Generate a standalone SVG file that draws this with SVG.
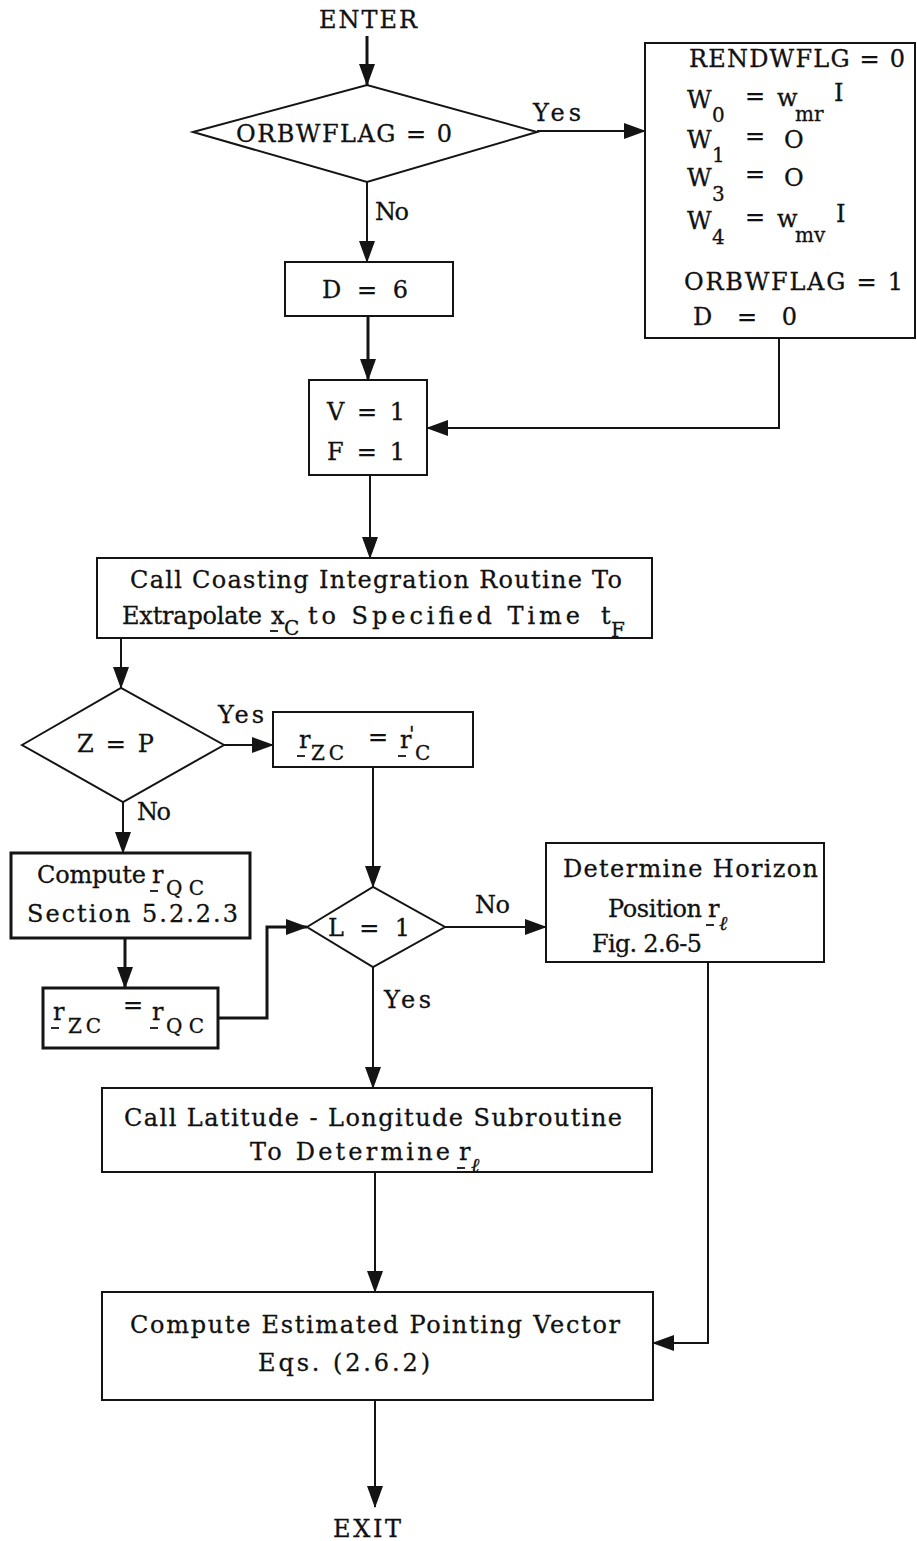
<svg xmlns="http://www.w3.org/2000/svg" width="917" height="1541" viewBox="0 0 917 1541">
  <style>
    .t { font-family: "DejaVu Serif", "Liberation Serif", serif; font-size: 24px; fill: #111111; stroke: #111111; stroke-width: 0.3; }
    .s { font-size: 20px; }
    .box { fill: none; stroke: #141414; stroke-width: 2; }
    .heavy { stroke-width: 3; }
    .ln { fill: none; stroke: #141414; stroke-width: 2; marker-end: url(#ah); }
    .lnb { fill: none; stroke: #141414; stroke-width: 3; marker-end: url(#ah); }
    .ub { stroke: #141414; stroke-width: 1.8; }
  </style>
  <defs>
    <marker id="ah" markerUnits="userSpaceOnUse" markerWidth="22" markerHeight="16" refX="21" refY="8" orient="auto">
      <path d="M0,0 L22,8 L0,16 z" fill="#141414"/>
    </marker>
  </defs>
  <rect width="917" height="1541" fill="#ffffff"/>

  <!-- connectors -->
  <g id="connectors">
    <path class="lnb" d="M367,36 V85"/>
    <path class="ln" d="M537,131 H645"/>
    <path class="ln" d="M367,182 V262"/>
    <path class="lnb" d="M368,316 V380"/>
    <path class="ln" d="M779,338 V428 H427"/>
    <path class="ln" d="M370,475 V558"/>
    <path class="ln" d="M121,638 V688"/>
    <path class="ln" d="M224,745 H273"/>
    <path class="ln" d="M123,802 V853"/>
    <path class="lnb" d="M125,938 V988"/>
    <path class="lnb" d="M218,1018 H267 V927 H307"/>
    <path class="ln" d="M373,767 V887"/>
    <path class="ln" d="M445,927 H546"/>
    <path class="ln" d="M708,962 V1343 H653"/>
    <path class="ln" d="M373,967 V1088"/>
    <path class="ln" d="M375,1172 V1292"/>
    <path class="ln" d="M375,1400 V1507"/>
  </g>

  <!-- branch labels -->
  <g id="labels">
    <text class="t" x="533" y="121" textLength="48">Yes</text>
    <text class="t" x="375" y="220" textLength="34">No</text>
    <text class="t" x="218" y="723" textLength="46">Yes</text>
    <text class="t" x="137" y="820" textLength="34">No</text>
    <text class="t" x="475" y="913" textLength="35">No</text>
    <text class="t" x="384" y="1008" textLength="47">Yes</text>
  </g>

  <g id="enter">
    <text class="t" x="319" y="28" textLength="98">ENTER</text>
  </g>

  <g id="orbwflag-test">
    <polygon class="box" points="193,132 367,85 537,132 367,182"/>
    <text class="t" x="236" y="142" textLength="216">ORBWFLAG = 0</text>
  </g>

  <g id="init-weights">
    <rect class="box" x="645" y="43" width="270" height="295"/>
    <text class="t" x="689" y="67" textLength="216">RENDWFLG = 0</text>
    <!-- W0 = w_mr I -->
    <text class="t" x="687" y="108">W</text>
    <text class="t s" x="712" y="122">0</text>
    <text class="t" x="745" y="104">=</text>
    <text class="t" x="777" y="106">w</text>
    <text class="t s" x="795" y="121">mr</text>
    <text class="t" x="834" y="101">I</text>
    <!-- W1 = O -->
    <text class="t" x="687" y="148">W</text>
    <text class="t s" x="712" y="162">1</text>
    <text class="t" x="745" y="144">=</text>
    <text class="t" x="784" y="148">O</text>
    <!-- W3 = O -->
    <text class="t" x="687" y="186">W</text>
    <text class="t s" x="712" y="201">3</text>
    <text class="t" x="745" y="182">=</text>
    <text class="t" x="784" y="186">O</text>
    <!-- W4 = w_mv I -->
    <text class="t" x="687" y="229">W</text>
    <text class="t s" x="712" y="244">4</text>
    <text class="t" x="745" y="225">=</text>
    <text class="t" x="777" y="227">w</text>
    <text class="t s" x="795" y="242">mv</text>
    <text class="t" x="836" y="222">I</text>
    <text class="t" x="684" y="290" textLength="219">ORBWFLAG = 1</text>
    <text class="t" x="693" y="325" textLength="104">D = 0</text>
  </g>

  <g id="set-d6">
    <rect class="box" x="285" y="262" width="168" height="54"/>
    <text class="t" x="322" y="298" textLength="86">D = 6</text>
  </g>

  <g id="set-vf">
    <rect class="box" x="309" y="380" width="118" height="95"/>
    <text class="t" x="327" y="420" textLength="78">V = 1</text>
    <text class="t" x="327" y="460" textLength="78">F = 1</text>
  </g>

  <g id="coasting">
    <rect class="box" x="97" y="558" width="555" height="80"/>
    <text class="t" x="130" y="588" textLength="492">Call Coasting Integration Routine To</text>
    <text class="t" x="122" y="624" textLength="140">Extrapolate</text>
    <text class="t" x="271" y="624">x</text>
    <line class="ub" x1="270" y1="631" x2="278" y2="631"/>
    <text class="t s" x="284" y="635">C</text>
    <text class="t" x="308" y="624" textLength="272">to Specified Time</text>
    <text class="t" x="601" y="624">t</text>
    <text class="t s" x="611" y="637">F</text>
  </g>

  <g id="z-eq-p">
    <polygon class="box" points="22,745 121,688 224,745 123,802"/>
    <text class="t" x="77" y="752" textLength="77">Z = P</text>
  </g>

  <g id="rzc-from-rc">
    <rect class="box" x="273" y="712" width="200" height="55"/>
    <text class="t" x="299" y="748">r</text>
    <line class="ub" x1="297" y1="756" x2="305" y2="756"/>
    <text class="t s" x="311" y="760" textLength="33">ZC</text>
    <text class="t" x="368" y="745">=</text>
    <text class="t" x="400" y="748">r</text>
    <line class="ub" x1="398" y1="756" x2="406" y2="756"/>
    <text class="t s" x="409" y="741">'</text>
    <text class="t s" x="415" y="760">C</text>
  </g>

  <g id="compute-rqc">
    <rect class="box heavy" x="11" y="853" width="239" height="85"/>
    <text class="t" x="37" y="883" textLength="109">Compute</text>
    <text class="t" x="152" y="883">r</text>
    <line class="ub" x1="150" y1="891" x2="158" y2="891"/>
    <text class="t s" x="166" y="895" textLength="38">QC</text>
    <text class="t" x="27" y="922" textLength="211">Section 5.2.2.3</text>
  </g>

  <g id="rzc-from-rqc">
    <rect class="box heavy" x="43" y="988" width="175" height="60"/>
    <text class="t" x="53" y="1020">r</text>
    <line class="ub" x1="51" y1="1028" x2="59" y2="1028"/>
    <text class="t s" x="68" y="1033" textLength="33">ZC</text>
    <text class="t" x="123" y="1013">=</text>
    <text class="t" x="152" y="1020">r</text>
    <line class="ub" x1="150" y1="1028" x2="158" y2="1028"/>
    <text class="t s" x="166" y="1033" textLength="38">QC</text>
  </g>

  <g id="l-eq-1">
    <polygon class="box" points="307,927 373,887 445,927 373,967"/>
    <text class="t" x="328" y="936" textLength="82">L = 1</text>
  </g>

  <g id="horizon">
    <rect class="box" x="546" y="843" width="278" height="119"/>
    <text class="t" x="563" y="877" textLength="255">Determine Horizon</text>
    <text class="t" x="608" y="917" textLength="94">Position</text>
    <text class="t" x="708" y="917">r</text>
    <line class="ub" x1="706" y1="925" x2="714" y2="925"/>
    <text class="t s" x="719" y="930" font-style="italic">ℓ</text>
    <text class="t" x="592" y="952" textLength="110">Fig. 2.6-5</text>
  </g>

  <g id="lat-long">
    <rect class="box" x="102" y="1088" width="550" height="84"/>
    <text class="t" x="124" y="1126" textLength="498">Call Latitude - Longitude Subroutine</text>
    <text class="t" x="250" y="1160" textLength="200">To Determine</text>
    <text class="t" x="459" y="1160">r</text>
    <line class="ub" x1="457" y1="1168" x2="465" y2="1168"/>
    <text class="t s" x="471" y="1172" font-style="italic">ℓ</text>
  </g>

  <g id="pointing-vector">
    <rect class="box" x="102" y="1292" width="551" height="108"/>
    <text class="t" x="130" y="1333" textLength="490">Compute Estimated Pointing Vector</text>
    <text class="t" x="258" y="1371" textLength="172">Eqs. (2.6.2)</text>
  </g>

  <g id="exit">
    <text class="t" x="333" y="1537" textLength="68">EXIT</text>
  </g>
</svg>
